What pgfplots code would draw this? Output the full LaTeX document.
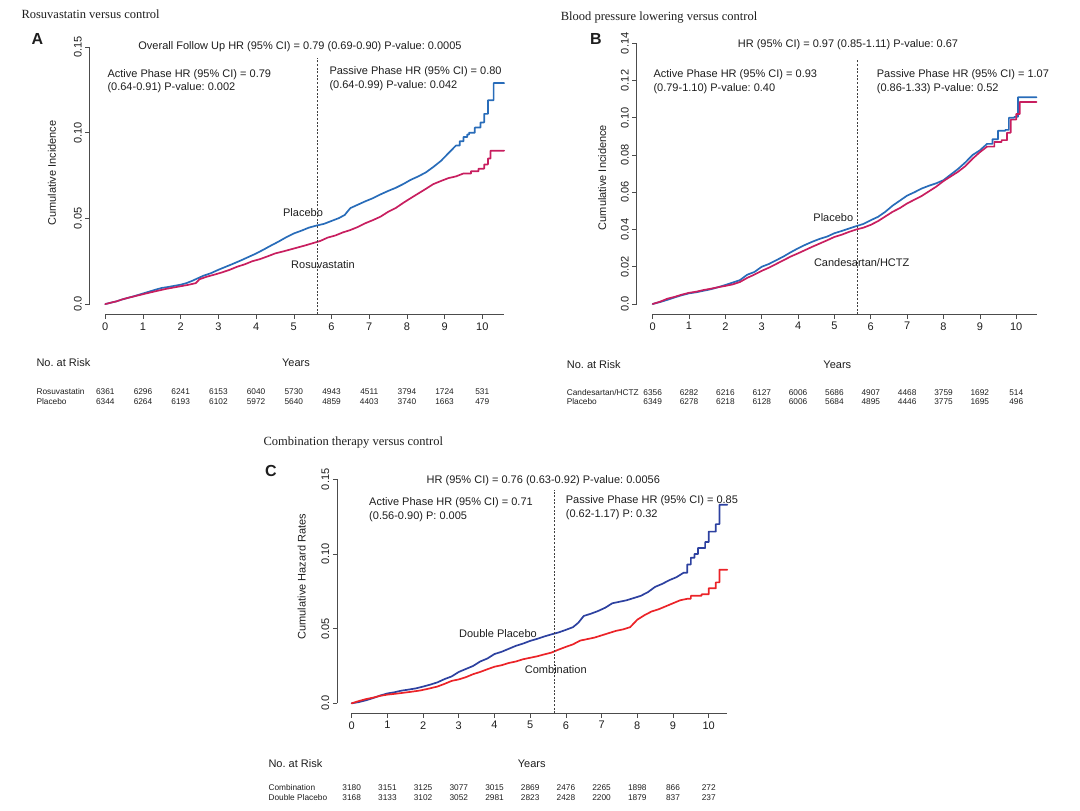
\documentclass[border=0pt]{standalone}
\usepackage{pgfplots}
\pgfplotsset{compat=1.18}
\usepackage{fontspec}
\setmainfont{Liberation Sans}
\newfontfamily\serif{Liberation Serif}
\frenchspacing
\definecolor{blueA}{RGB}{40,108,185}
\definecolor{magA}{RGB}{200,30,95}
\definecolor{blueC}{RGB}{45,65,160}
\definecolor{redC}{RGB}{235,35,40}
\definecolor{txt}{RGB}{30,30,30}
\newcommand\ann{\fontsize{11}{13}\selectfont}
\newcommand\risk{\fontsize{8.3}{10}\selectfont}
\newcommand\ttl{\serif\fontsize{12.5}{14}\selectfont}
\newcommand\pl{\bfseries\fontsize{16}{18}\selectfont}
\tikzset{
  axl/.style={gray!60!black, line width=0.6pt},
  dsh/.style={black!75, line width=0.6pt, dash pattern=on 2pt off 1.6pt},
}
\pgfplotsset{
  km/.style={
    scale only axis, anchor=south west, clip=false,
    axis x line*=bottom, axis y line*=left,
    axis line style={draw=none},
    tick align=outside, major tick length=4.5pt,
    every tick/.style={gray!60!black, line width=0.6pt},
    xtick={0,1,...,10}, xticklabels={0,1,2,3,4,5,6,7,8,9,10},
    ticklabel style={font=\ann, text=txt},
    yticklabel style={rotate=90, anchor=south},
  },
  curve/.style={sharp plot, line width=1.7pt, mark=none, line join=round, line cap=round},
}
\begin{document}
\begin{tikzpicture}[every node/.style={text=txt}]
\useasboundingbox (0,0) rectangle (1080pt,811pt);

% ---------------- Panel A ----------------
\begin{axis}[km, at={(89.7pt,496.5pt)}, width=430.3pt, height=277.7pt,
  xmin=-0.414, xmax=11.0, ymin=-0.0061, ymax=0.156,
  ytick={0,0.05,0.10,0.15}, yticklabels={0.0,0.05,0.10,0.15}]
\draw[axl] (axis cs:0,-0.0061) -- (axis cs:10.58,-0.0061);
\draw[axl] (axis cs:-0.414,0) -- (axis cs:-0.414,0.15);
\addplot[curve, color=blueA] coordinates {
(0,0) (0.15,0.0008) (0.3,0.0016) (0.45,0.0027) (0.6,0.0036) (0.75,0.0045) (0.9,0.0055)
(1.05,0.0065) (1.2,0.0075) (1.35,0.0085) (1.5,0.0094) (1.65,0.0099) (1.8,0.0105)
(2.0,0.0113) (2.15,0.0122) (2.3,0.0135) (2.45,0.0150) (2.6,0.0165) (2.8,0.0180)
(3.0,0.0200) (3.2,0.0218) (3.4,0.0236) (3.6,0.0255) (3.8,0.0275) (4.0,0.0295)
(4.2,0.0318) (4.4,0.0342) (4.6,0.0365) (4.8,0.0390) (5.0,0.0412) (5.2,0.0428)
(5.4,0.0446) (5.6,0.0458) (5.8,0.0468) (6.0,0.0485) (6.2,0.0502) (6.35,0.0520)
(6.5,0.0560) (6.7,0.0580) (6.9,0.0600) (7.1,0.0618) (7.3,0.0640) (7.5,0.0660)
(7.7,0.0678) (7.9,0.0700) (8.1,0.0725) (8.3,0.0745) (8.5,0.0768) (8.7,0.0800)
(8.9,0.0835) (9.1,0.0880) (9.3,0.0925)
(9.4,0.0925) (9.4,0.0950) (9.5,0.0950) (9.5,0.0975) (9.6,0.0975) (9.6,0.0990)
(9.65,0.0990) (9.65,0.1000) (9.8,0.1000) (9.8,0.1030) (9.95,0.1030) (9.95,0.1060)
(10.05,0.1060) (10.05,0.1110) (10.15,0.1110) (10.15,0.1190) (10.3,0.1190)
(10.3,0.1290) (10.58,0.1290)};
\addplot[curve, color=magA] coordinates {
(0,0) (0.15,0.0008) (0.3,0.0016) (0.45,0.0027) (0.6,0.0036) (0.75,0.0044) (0.9,0.0052)
(1.05,0.0060) (1.2,0.0068) (1.4,0.0078) (1.6,0.0088) (1.8,0.0096) (2.0,0.0104)
(2.2,0.0112) (2.4,0.0122) (2.5,0.0145) (2.7,0.0160) (2.9,0.0172) (3.1,0.0185)
(3.3,0.0200) (3.5,0.0218) (3.7,0.0232) (3.9,0.0250) (4.1,0.0262) (4.3,0.0278)
(4.5,0.0295) (4.7,0.0306) (4.9,0.0318) (5.1,0.0330) (5.3,0.0342) (5.5,0.0355)
(5.7,0.0368) (5.9,0.0388) (6.1,0.0400) (6.3,0.0418) (6.5,0.0432) (6.7,0.0450)
(6.9,0.0472) (7.1,0.0490) (7.3,0.0510) (7.5,0.0538) (7.7,0.0560) (7.9,0.0590)
(8.1,0.0618) (8.3,0.0645) (8.5,0.0672) (8.7,0.0700) (8.9,0.0718) (9.1,0.0735)
(9.3,0.0745) (9.5,0.0762)
(9.7,0.0762) (9.7,0.0775) (9.9,0.0775) (9.9,0.0790) (10.05,0.0790) (10.05,0.0815)
(10.15,0.0815) (10.15,0.0850) (10.22,0.0850) (10.22,0.0895) (10.58,0.0895)};
\draw[dsh] (axis cs:5.63,-0.0061) -- (axis cs:5.63,0.1436);
\end{axis}
\node[anchor=base west, font=\ttl] at (18pt,792pt) {Rosuvastatin versus control};
\node[anchor=base west, font=\pl] at (28pt,766pt) {A};
\node[anchor=base, font=\ann] at (300pt,761pt) {Overall Follow Up HR (95\% CI) = 0.79 (0.69-0.90) P-value: 0.0005};
\node[anchor=base west, font=\ann] at (104pt,733.5pt) {Active Phase HR (95\% CI) = 0.79};
\node[anchor=base west, font=\ann] at (104pt,720pt) {(0.64-0.91) P-value: 0.002};
\node[anchor=base west, font=\ann] at (326pt,736pt) {Passive Phase HR (95\% CI) = 0.80};
\node[anchor=base west, font=\ann] at (326pt,722.5pt) {(0.64-0.99) P-value: 0.042};
\node[anchor=base, font=\ann] at (303pt,594.5pt) {Placebo};
\node[anchor=base, font=\ann] at (323pt,542pt) {Rosuvastatin};
\node[rotate=90, font=\ann] at (52pt,638pt) {Cumulative Incidence};
\node[anchor=base west, font=\ann] at (33pt,444pt) {No. at Risk};
\node[anchor=base, font=\ann] at (296pt,444pt) {Years};
\node[anchor=base west, font=\risk] at (33pt,416pt) {Rosuvastatin};
\node[anchor=base west, font=\risk] at (33pt,406.5pt) {Placebo};
\foreach \n [count=\i from 0] in {6361,6296,6241,6153,6040,5730,4943,4511,3794,1724,531}
  \node[anchor=base, font=\risk] at ({105.3pt+37.7pt*\i},416pt) {\n};
\foreach \n [count=\i from 0] in {6344,6264,6193,6102,5972,5640,4859,4403,3740,1663,479}
  \node[anchor=base, font=\risk] at ({105.3pt+37.7pt*\i},406.5pt) {\n};

% ---------------- Panel B ----------------
\begin{axis}[km, at={(636.7pt,496.6pt)}, width=415.8pt, height=281.5pt,
  xmin=-0.44, xmax=11.0, ymin=-0.0056, ymax=0.1456,
  ytick={0,0.02,0.04,0.06,0.08,0.10,0.12,0.14},
  yticklabels={0.0,0.02,0.04,0.06,0.08,0.10,0.12,0.14}]
\draw[axl] (axis cs:0,-0.0056) -- (axis cs:10.56,-0.0056);
\draw[axl] (axis cs:-0.44,0) -- (axis cs:-0.44,0.14);
\addplot[curve, color=blueA] coordinates {
(0,0) (0.2,0.0010) (0.4,0.0022) (0.6,0.0035) (0.8,0.0047) (1.0,0.0057) (1.2,0.0063)
(1.4,0.0071) (1.6,0.0079) (1.8,0.0090) (2.0,0.0102) (2.2,0.0115) (2.4,0.0128)
(2.6,0.0157) (2.8,0.0172) (3.0,0.0200) (3.2,0.0215) (3.4,0.0235) (3.6,0.0255)
(3.8,0.0278) (4.0,0.0299) (4.2,0.0318) (4.4,0.0335) (4.6,0.0350) (4.8,0.0362)
(5.0,0.0380) (5.2,0.0392) (5.4,0.0405) (5.6,0.0418) (5.8,0.0430) (6.0,0.0450)
(6.2,0.0468) (6.4,0.0495) (6.6,0.0528) (6.8,0.0555) (7.0,0.0582) (7.2,0.0600)
(7.4,0.0620) (7.6,0.0635) (7.8,0.0648) (8.0,0.0665) (8.2,0.0695) (8.4,0.0725)
(8.6,0.0760) (8.8,0.0800) (9.0,0.0825) (9.2,0.0860)
(9.35,0.0860) (9.35,0.0885) (9.5,0.0885) (9.5,0.0930) (9.7,0.0930) (9.7,0.0935)
(9.8,0.0935) (9.8,0.1000) (9.95,0.1000) (9.95,0.1005) (10.05,0.1005)
(10.05,0.1110) (10.56,0.1110)};
\addplot[curve, color=magA] coordinates {
(0,0) (0.2,0.0012) (0.4,0.0028) (0.6,0.0038) (0.8,0.0050) (1.0,0.0060) (1.2,0.0066)
(1.4,0.0075) (1.6,0.0082) (1.8,0.0090) (2.0,0.0097) (2.2,0.0105) (2.4,0.0118)
(2.6,0.0140) (2.8,0.0158) (3.0,0.0178) (3.2,0.0195) (3.4,0.0215) (3.6,0.0235)
(3.8,0.0255) (4.0,0.0272) (4.2,0.0290) (4.4,0.0308) (4.6,0.0325) (4.8,0.0342)
(5.0,0.0360) (5.2,0.0372) (5.4,0.0387) (5.6,0.0400) (5.8,0.0410) (6.0,0.0425)
(6.2,0.0445) (6.4,0.0470) (6.6,0.0495) (6.8,0.0515) (7.0,0.0540) (7.2,0.0560)
(7.4,0.0580) (7.6,0.0605) (7.8,0.0630) (8.0,0.0660) (8.2,0.0685) (8.4,0.0710)
(8.6,0.0740) (8.8,0.0780) (9.0,0.0815) (9.2,0.0845)
(9.4,0.0845) (9.4,0.0870) (9.6,0.0870) (9.6,0.0880) (9.75,0.0880) (9.75,0.0920)
(9.85,0.0920) (9.85,0.0990) (10.0,0.0990) (10.0,0.1020) (10.1,0.1020)
(10.1,0.1085) (10.56,0.1085)};
\draw[dsh] (axis cs:5.64,-0.0056) -- (axis cs:5.64,0.131);
\end{axis}
\node[anchor=base west, font=\ttl] at (557.3pt,790pt) {Blood pressure lowering versus control};
\node[anchor=base west, font=\pl] at (586.7pt,766pt) {B};
\node[anchor=base, font=\ann] at (848pt,763.5pt) {HR (95\% CI) = 0.97 (0.85-1.11) P-value: 0.67};
\node[anchor=base west, font=\ann] at (650pt,733pt) {Active Phase HR (95\% CI) = 0.93};
\node[anchor=base west, font=\ann] at (650pt,719.5pt) {(0.79-1.10) P-value: 0.40};
\node[anchor=base west, font=\ann] at (873.3pt,733pt) {Passive Phase HR (95\% CI) = 1.07};
\node[anchor=base west, font=\ann] at (873.3pt,719.5pt) {(0.86-1.33) P-value: 0.52};
\node[anchor=base, font=\ann] at (833.3pt,589.5pt) {Placebo};
\node[anchor=base, font=\ann] at (861.7pt,544.5pt) {Candesartan/HCTZ};
\node[rotate=90, font=\ann] at (602.3pt,633.5pt) {Cumulative Incidence};
\node[anchor=base west, font=\ann] at (563.3pt,442pt) {No. at Risk};
\node[anchor=base, font=\ann] at (837.3pt,442pt) {Years};
\node[anchor=base west, font=\risk] at (563.3pt,415.5pt) {Candesartan/HCTZ};
\node[anchor=base west, font=\risk] at (563.3pt,406pt) {Placebo};
\foreach \n [count=\i from 0] in {6356,6282,6216,6127,6006,5686,4907,4468,3759,1692,514}
  \node[anchor=base, font=\risk] at ({652.7pt+36.35pt*\i},415.5pt) {\n};
\foreach \n [count=\i from 0] in {6349,6278,6218,6128,6006,5684,4895,4446,3775,1695,496}
  \node[anchor=base, font=\risk] at ({652.7pt+36.35pt*\i},406pt) {\n};

% ---------------- Panel C ----------------
\begin{axis}[km, at={(337.3pt,97.7pt)}, width=407.1pt, height=242.9pt,
  xmin=-0.403, xmax=11.0, ymin=-0.0067, ymax=0.156,
  ytick={0,0.05,0.10,0.15}, yticklabels={0.0,0.05,0.10,0.15}]
\draw[axl] (axis cs:0,-0.0067) -- (axis cs:10.52,-0.0067);
\draw[axl] (axis cs:-0.403,0) -- (axis cs:-0.403,0.15);
\addplot[curve, color=blueC] coordinates {
(0,0) (0.2,0.0008) (0.4,0.0020) (0.6,0.0035) (0.8,0.0052) (1.0,0.0066) (1.2,0.0074)
(1.4,0.0085) (1.6,0.0092) (1.8,0.0100) (2.0,0.0112) (2.2,0.0125) (2.4,0.0140)
(2.6,0.0162) (2.8,0.0180) (3.0,0.0210) (3.2,0.0230) (3.4,0.0250) (3.6,0.0280)
(3.8,0.0300) (4.0,0.0330) (4.2,0.0345) (4.4,0.0365) (4.6,0.0385) (4.8,0.0400)
(5.0,0.0418) (5.2,0.0432) (5.4,0.0448) (5.6,0.0462) (5.8,0.0475) (6.0,0.0492)
(6.2,0.0510) (6.35,0.0540) (6.5,0.0585) (6.7,0.0600) (6.9,0.0618) (7.1,0.0640)
(7.3,0.0670) (7.5,0.0680) (7.7,0.0690) (7.9,0.0705) (8.1,0.0720) (8.3,0.0745)
(8.5,0.0780) (8.7,0.0800) (8.9,0.0825) (9.1,0.0845) (9.3,0.0875)
(9.4,0.0875) (9.4,0.0930) (9.5,0.0930) (9.5,0.0975) (9.6,0.0975) (9.6,0.1000)
(9.7,0.1000) (9.7,0.1040) (9.9,0.1040) (9.9,0.1080) (10.0,0.1080) (10.0,0.1150)
(10.2,0.1150) (10.2,0.1200) (10.3,0.1200) (10.3,0.1330) (10.52,0.1330)};
\addplot[curve, color=redC] coordinates {
(0,0) (0.2,0.0015) (0.4,0.0028) (0.6,0.0038) (0.8,0.0050) (1.0,0.0058) (1.3,0.0066)
(1.6,0.0075) (1.9,0.0085) (2.1,0.0095) (2.4,0.0112) (2.6,0.0130) (2.8,0.0150)
(3.0,0.0160) (3.2,0.0175) (3.4,0.0195) (3.6,0.0210) (3.8,0.0228) (4.0,0.0245)
(4.2,0.0255) (4.4,0.0270) (4.6,0.0280) (4.8,0.0295) (5.0,0.0305) (5.2,0.0315)
(5.4,0.0328) (5.6,0.0340) (5.8,0.0360) (6.0,0.0378) (6.2,0.0395) (6.4,0.0420)
(6.6,0.0430) (6.8,0.0440) (7.0,0.0455) (7.2,0.0470) (7.4,0.0485) (7.6,0.0495)
(7.8,0.0510) (8.0,0.0560) (8.2,0.0590) (8.4,0.0615) (8.6,0.0630) (8.8,0.0650)
(9.0,0.0670) (9.2,0.0690) (9.4,0.0700)
(9.5,0.0700) (9.5,0.0720) (9.8,0.0720) (9.8,0.0730) (10.0,0.0730) (10.0,0.0770)
(10.2,0.0770) (10.2,0.0810) (10.3,0.0810) (10.3,0.0895) (10.52,0.0895)};
\draw[dsh] (axis cs:5.67,-0.0067) -- (axis cs:5.67,0.1429);
\end{axis}
\node[anchor=base west, font=\ttl] at (260pt,365pt) {Combination therapy versus control};
\node[anchor=base west, font=\pl] at (261.7pt,334pt) {C};
\node[anchor=base, font=\ann] at (543.3pt,327pt) {HR (95\% CI) = 0.76 (0.63-0.92) P-value: 0.0056};
\node[anchor=base west, font=\ann] at (365.7pt,305pt) {Active Phase HR (95\% CI) = 0.71};
\node[anchor=base west, font=\ann] at (365.7pt,291.5pt) {(0.56-0.90) P: 0.005};
\node[anchor=base west, font=\ann] at (562.3pt,307pt) {Passive Phase HR (95\% CI) = 0.85};
\node[anchor=base west, font=\ann] at (562.3pt,293.5pt) {(0.62-1.17) P: 0.32};
\node[anchor=base, font=\ann] at (498pt,173.5pt) {Double Placebo};
\node[anchor=base, font=\ann] at (555.8pt,137.5pt) {Combination};
\node[rotate=90, font=\ann] at (301.7pt,234.3pt) {Cumulative Hazard Rates};
\node[anchor=base west, font=\ann] at (265pt,43pt) {No. at Risk};
\node[anchor=base, font=\ann] at (531.7pt,43pt) {Years};
\node[anchor=base west, font=\risk] at (265pt,20pt) {Combination};
\node[anchor=base west, font=\risk] at (265pt,10pt) {Double Placebo};
\foreach \n [count=\i from 0] in {3180,3151,3125,3077,3015,2869,2476,2265,1898,866,272}
  \node[anchor=base, font=\risk] at ({351.7pt+35.7pt*\i},20pt) {\n};
\foreach \n [count=\i from 0] in {3168,3133,3102,3052,2981,2823,2428,2200,1879,837,237}
  \node[anchor=base, font=\risk] at ({351.7pt+35.7pt*\i},10pt) {\n};
\end{tikzpicture}
\end{document}
